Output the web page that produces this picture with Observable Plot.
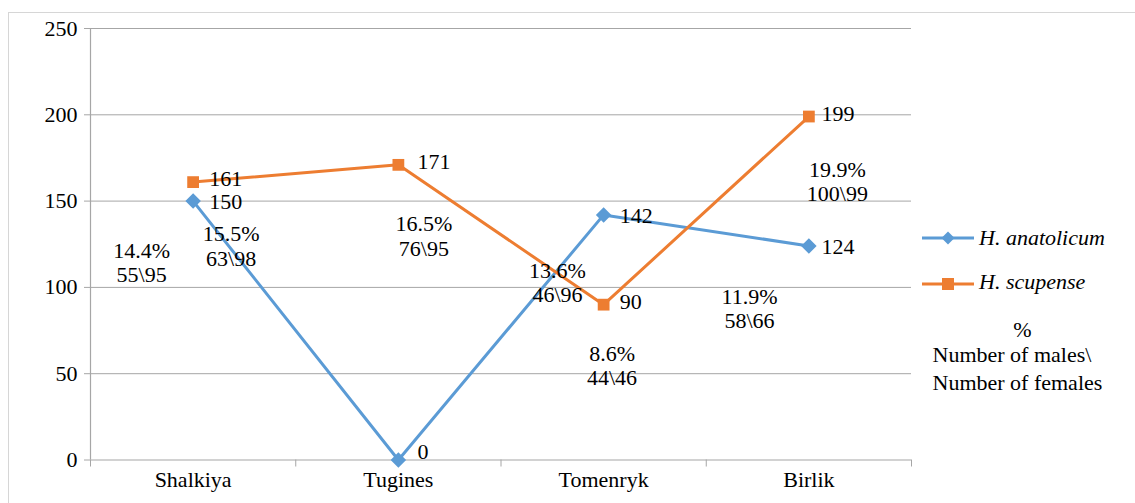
<!DOCTYPE html>
<html>
<head>
<meta charset="utf-8">
<script src="https://cdn.jsdelivr.net/npm/d3@7"></script>
<script src="https://cdn.jsdelivr.net/npm/@observablehq/plot@0.6"></script>
<style>
  html, body { margin: 0; padding: 0; background: #fff; }
  body { width: 1135px; height: 503px; position: relative; overflow: hidden; font-family: "Liberation Serif", "Times New Roman", serif; }
  #frame { position: absolute; left: 8px; top: 12px; width: 1200px; height: 600px; border: 1.5px solid #d6d6d6; box-sizing: border-box; }
  #chart { position: absolute; left: 0; top: 0; }
  #legend { position: absolute; left: 0; top: 0; width: 1135px; height: 503px; pointer-events: none; }
  .lg { position: absolute; font-size: 22px; color: #000; white-space: nowrap; line-height: 22px; font-family: "Liberation Serif", "Times New Roman", serif; }
</style>
</head>
<body>
<div id="frame"></div>
<div id="chart"></div>
<div id="legend"></div>
<script>
// ---- data ----
const categories = ["Shalkiya", "Tugines", "Tomenryk", "Birlik"];
const anatolicum = [150, 0, 142, 124];
const scupense = [161, 171, 90, 199];
const seriesNames = ["H. anatolicum", "H. scupense"];
const yTicks = [0, 50, 100, 150, 200, 250];
const annotationTexts = ["14.4%\n55\\95", "15.5%\n63\\98", "16.5%\n76\\95", "13.6%\n46\\96", "8.6%\n44\\46", "11.9%\n58\\66", "19.9%\n100\\99"];
const noteLines = ["%", "Number of males\\", "Number of females"];

// ---- layout (annotation anchors in scale units, label offsets in px) ----
const annotationAnchors = [[0.249, 114.6], [0.685, 124.1], [1.624, 129.9], [2.275, 103], [2.541, 54.8], [3.211, 88.1], [3.639, 161.6]];
const labelDx = [16, 19, 16, 12.5];

const blue = "#5b9bd5", orange = "#ed7d31";
const FONT = '"Liberation Serif", "Times New Roman", serif';
const fs = 22;

const rows = [];
categories.forEach((c, i) => {
  rows.push({series: seriesNames[0], i, cat: c, v: anatolicum[i]});
  rows.push({series: seriesNames[1], i, cat: c, v: scupense[i]});
});
const ann = annotationTexts.map((t, k) => ({t, x: annotationAnchors[k][0], y: annotationAnchors[k][1]}));
const A = rows.filter(d => d.series === seriesNames[0]);
const S = rows.filter(d => d.series === seriesNames[1]);

const labelMarks = [];
categories.forEach((c, i) => {
  const a = A.filter(d => d.i === i), s = S.filter(d => d.i === i);
  labelMarks.push(Plot.text(a, {x: d => d.i + 0.5, y: "v", text: d => String(d.v), textAnchor: "start", dx: labelDx[i], dy: a[0].v === 0 ? -8 : 1, fontSize: fs, fill: "#000"}));
  labelMarks.push(Plot.text(s, {x: d => d.i + 0.5, y: "v", text: d => String(d.v), textAnchor: "start", dx: labelDx[i], dy: -3, fontSize: fs, fill: "#000"}));
});

const chart = Plot.plot({
  width: 1135,
  height: 503,
  marginLeft: 90,
  marginRight: 224,
  marginTop: 28,
  marginBottom: 43.5,
  style: {fontFamily: FONT, fontSize: fs + "px", background: "transparent", color: "#000"},
  x: {type: "linear", domain: [0, categories.length]},
  y: {domain: [0, 250]},
  marks: [
    Plot.gridY(yTicks.filter(t => t > 0), {stroke: "#a6a6a6", strokeOpacity: 1, strokeWidth: 1}),
    Plot.ruleY([0], {stroke: "#a6a6a6", strokeWidth: 1.2}),
    Plot.ruleX([0], {y1: 0, y2: 250, stroke: "#a6a6a6", strokeWidth: 1.2}),
    Plot.axisY({ticks: yTicks, tickSize: 6, tickPadding: 7, stroke: "#a6a6a6", fill: "#000", fontSize: fs, label: null}),
    Plot.axisX({ticks: d3.range(categories.length + 1), tickSize: 7, tickFormat: () => "", stroke: "#a6a6a6", label: null}),
    Plot.axisX({ticks: categories.map((c, i) => i + 0.5), tickSize: 0, tickPadding: 11.5, tickFormat: (d) => categories[Math.floor(d)], fill: "#000", fontSize: fs, label: null}),
    Plot.line(A, {x: d => d.i + 0.5, y: "v", stroke: blue, strokeWidth: 3}),
    Plot.line(S, {x: d => d.i + 0.5, y: "v", stroke: orange, strokeWidth: 3}),
    Plot.dot(A, {x: d => d.i + 0.5, y: "v", symbol: "diamond2", r: 7, fill: blue, stroke: "none"}),
    Plot.dot(S, {x: d => d.i + 0.5, y: "v", symbol: "square2", r: 7.5, fill: orange, stroke: "none"}),
    ...labelMarks,
    Plot.text(ann, {x: "x", y: "y", text: "t", textAnchor: "middle", lineHeight: 1.1, fontSize: fs, fill: "#000"})
  ]
});
document.getElementById("chart").appendChild(chart);

// ---- legend ----
const leg = document.getElementById("legend");
function legendItem(color, symbol, y) {
  const sym = symbol === "diamond"
    ? `<path d="M26,${y-6.5}L32.5,${y}L26,${y+6.5}L19.5,${y}Z" fill="${color}"/>`
    : `<rect x="${26-6}" y="${y-6}" width="12" height="12" fill="${color}"/>`;
  return `<line x1="0" x2="52" y1="${y}" y2="${y}" stroke="${color}" stroke-width="3"/>` + sym;
}
leg.innerHTML =
  `<svg style="position:absolute;left:921.5px;top:0" width="60" height="503">` +
  legendItem(blue, "diamond", 238) + legendItem(orange, "square", 284) + `</svg>` +
  `<div class="lg" style="left:979px;top:227px;font-style:italic">${seriesNames[0]}</div>` +
  `<div class="lg" style="left:979px;top:271px;font-style:italic">${seriesNames[1]}</div>` +
  `<div class="lg" style="left:932.5px;top:319px;width:180px;text-align:center">${noteLines[0]}</div>` +
  `<div class="lg" style="left:932.5px;top:341px;line-height:28px;white-space:pre">${noteLines.slice(1).join("\n")}</div>`;
</script>
</body>
</html>
